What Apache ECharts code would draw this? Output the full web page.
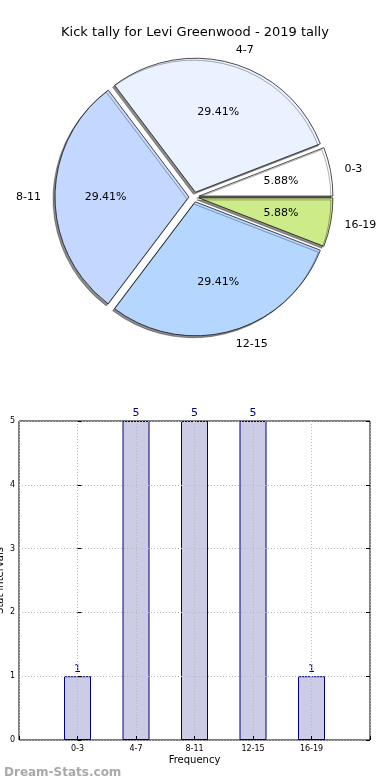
<!DOCTYPE html>
<html>
<head>
<meta charset="utf-8">
<script src="https://cdn.jsdelivr.net/npm/echarts@6/dist/echarts.min.js"></script>
<style>html,body{margin:0;padding:0;background:#fff;}#c{width:390px;height:780px;}</style>
</head>
<body>
<div id="c"></div>
<script>
var titleText = 'Kick tally for Levi Greenwood - 2019 tally';
var categories = ['0-3', '4-7', '8-11', '12-15', '16-19'];
var counts = [1, 5, 5, 5, 1];
var sliceColors = ['#ffffff', '#eaf2ff', '#c4d8ff', '#b5d6ff', '#ceeb8a'];
var yTicks = [0, 1, 2, 3, 4, 5];
var xAxisName = 'Frequency';
var yAxisName = 'Stat intervals';
var watermark = 'Dream-Stats.com';

var FONT = 'DejaVu Sans';
var R = 134;
var CENTER = [194, 197];
var total = counts.reduce(function (a, b) { return a + b; }, 0);

var pieData = categories.map(function (c, i) {
  return { name: c, value: counts[i], selected: true, itemStyle: { color: sliceColors[i] } };
});
var pieDataPct = categories.map(function (c, i) {
  return { name: c, value: counts[i], selected: true };
});
var barData = counts.map(function (v, i) { return [i, v]; });

var chart = echarts.init(document.getElementById('c'), null, { renderer: 'canvas' });
chart.setOption({
  animation: false,
  backgroundColor: '#ffffff',
  title: [
    { text: titleText, left: 'center', top: 21, textStyle: { fontFamily: FONT, fontSize: 13, fontWeight: 'normal', color: '#000' } },
    { text: watermark, left: -1, top: 762, textStyle: { fontFamily: FONT, fontSize: 12, fontWeight: 'bold', color: '#a9a9a9' } }
  ],
  grid: { left: 19, right: 20, top: 421, bottom: 40, containLabel: false, outerBoundsMode: 'none', show: true, borderColor: '#000', borderWidth: 1, backgroundColor: 'transparent' },
  xAxis: {
    type: 'value', min: -1, max: 5, interval: 1,
    name: xAxisName, nameLocation: 'middle', nameGap: 15, nameMoveOverlap: false,
    nameTextStyle: { fontFamily: FONT, fontSize: 10, color: '#000' },
    axisLine: { show: false },
    axisTick: { show: true, inside: true, length: 4, lineStyle: { color: '#000' } },
    axisLabel: { fontFamily: FONT, fontSize: 8, color: '#000', margin: 5,
      formatter: function (v) { return categories[v] !== undefined ? categories[v] : ''; } },
    splitLine: { show: true, lineStyle: { color: '#b8b8b8', type: [1, 2], width: 1 } }
  },
  yAxis: [{
    type: 'value', min: yTicks[0], max: yTicks[yTicks.length - 1], interval: 1,
    name: yAxisName, nameLocation: 'middle', nameGap: 14, nameMoveOverlap: false,
    nameTextStyle: { fontFamily: FONT, fontSize: 10, color: '#000' },
    axisLine: { show: false },
    axisTick: { show: true, inside: true, length: 4, lineStyle: { color: '#000' } },
    axisLabel: { fontFamily: FONT, fontSize: 8, color: '#000', margin: 4 },
    splitLine: { show: true, lineStyle: { color: '#b8b8b8', type: [1, 2], width: 1 } }
  }, {
    type: 'value', position: 'right', min: yTicks[0], max: yTicks[yTicks.length - 1], interval: 1,
    axisLine: { show: false },
    axisTick: { show: true, inside: true, length: 4, lineStyle: { color: '#000' } },
    axisLabel: { show: false },
    splitLine: { show: false }
  }],
  series: [
    {
      type: 'pie',
      center: CENTER,
      radius: R,
      startAngle: 0,
      clockwise: false,
      selectedMode: 'multiple',
      selectedOffset: 5,
      avoidLabelOverlap: false,
      data: pieData,
      itemStyle: { borderColor: '#000', borderWidth: 0.7, shadowColor: 'rgba(0,0,0,0.45)', shadowBlur: 0, shadowOffsetX: -2, shadowOffsetY: 2 },
      label: { show: true, position: 'outside', formatter: '{b}', fontFamily: FONT, fontSize: 11, color: '#000', distanceToLabelLine: 0 },
      labelLine: { show: false, length: 14, length2: 0 },
      emphasis: { disabled: true },
      select: { itemStyle: { borderColor: '#000', borderWidth: 0.7 } },
      silent: true
    },
    {
      type: 'pie',
      center: CENTER,
      radius: [R * 0.2, R],
      startAngle: 0,
      clockwise: false,
      selectedMode: 'multiple',
      selectedOffset: 5,
      avoidLabelOverlap: false,
      data: pieDataPct,
      itemStyle: { color: 'rgba(0,0,0,0)', borderWidth: 0 },
      label: { show: true, position: 'inside', fontFamily: FONT, fontSize: 11, color: '#000',
        formatter: function (p) { return (p.value / total * 100).toFixed(2) + '%'; } },
      labelLine: { show: false },
      emphasis: { disabled: true },
      select: { itemStyle: { color: 'rgba(0,0,0,0)', borderWidth: 0 } },
      silent: true
    },
    {
      type: 'bar',
      data: barData,
      barWidth: 27,
      itemStyle: { color: '#ccccE6', borderColor: '#000080', borderWidth: 1 },
      label: { show: true, position: 'top', distance: 2, fontFamily: FONT, fontSize: 11, color: '#000080' },
      z: -1
    }
  ]
});
</script>
</body>
</html>
